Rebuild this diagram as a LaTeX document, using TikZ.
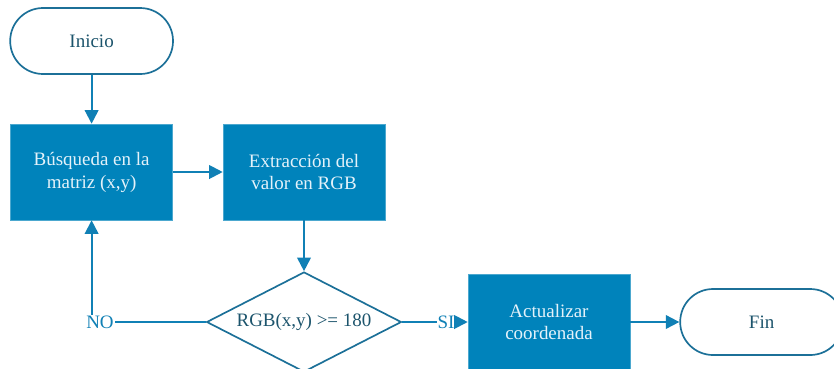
\documentclass[tikz,border=0pt]{standalone}
\usepackage{fontspec}
\setmainfont{Liberation Serif}
\usetikzlibrary{arrows.meta,positioning,shapes.geometric}
\definecolor{sea}{RGB}{0,131,187}
\definecolor{rim}{RGB}{28,112,152}
\definecolor{deep}{RGB}{28,84,108}
\definecolor{wire}{RGB}{16,128,181}
\definecolor{pale}{RGB}{228,242,250}
\tikzset{
  >={Triangle[length=3.4mm,width=3.4mm]},
  solid box/.style={fill=#1,draw=#1!70!white,thin,text=pale,minimum width=40.5mm,
    minimum height=24mm,align=center,font=\fontsize{13.5}{16.3}\selectfont},
  solid box/.default=sea,
  term/.style={rectangle,rounded corners=8.2mm,draw=rim,line width=1.2pt,fill=white,text=deep,
    minimum width=40.7mm,minimum height=16.5mm,font=\fontsize{13.5}{16.3}\selectfont},
  decision/.style={diamond,aspect=1.95,inner sep=0pt,draw=rim,line width=1.2pt,text=deep,
    minimum width=48.7mm,minimum height=25mm,font=\fontsize{13.5}{16.3}\selectfont},
  flow/.style={->,line width=1.4pt,draw=wire},
  flow/.default=wire,
  tag/.style={text=wire,inner sep=0.5pt,font=\fontsize{13.5}{16.3}\selectfont},
}
\begin{document}
\begin{tikzpicture}
  \useasboundingbox (0,0) rectangle (20.85,-9.2);
  \node[term] (start) at (2.29,-1.025) {Inicio};
  \node[solid box] (search) at (2.29,-4.3) {Búsqueda en la\\matriz (x,y)};
  \node[solid box] (extract) at (7.6,-4.3) {Extracción del\\valor en RGB};
  \node[decision] (check) at (7.6,-8.05) {RGB(x,y) >= 180};
  \node[solid box] (update) at (13.725,-8.05) {Actualizar\\coordenada};
  \node[term] (stop) at (19.04,-8.05) {Fin};
  \node[tag] (no) at (2.5,-8.05) {NO};
  \node[tag] (yes) at (11.15,-8.05) {SI};
  \draw[flow] (start) -- (search);
  \draw[flow] (search) -- (extract);
  \draw[flow] (extract) -- (check);
  \draw[flow,-] (check.west) -- (no);
  \draw[flow] (no.north -| search.south) -- (search.south);
  \draw[flow,-] (check.east) -- (yes);
  \draw[flow] (yes) -- (update);
  \draw[flow] (update) -- (stop);
\end{tikzpicture}
\end{document}
